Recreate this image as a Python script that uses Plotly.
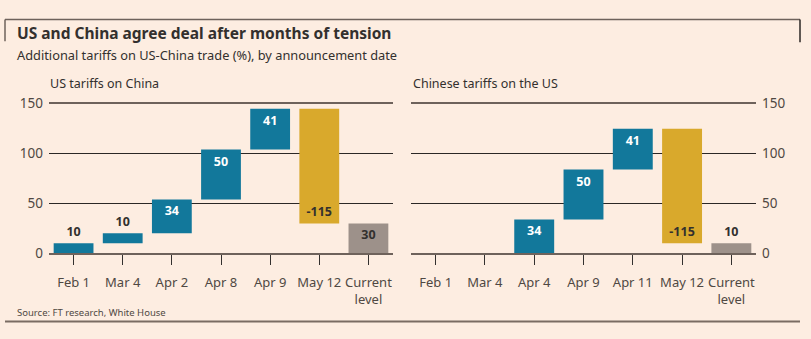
import plotly.graph_objects as go

# ---- data ----
us_dates = ["Feb 1", "Mar 4", "Apr 2", "Apr 8", "Apr 9", "May 12", "Current<br>level"]
us_changes = [10, 10, 34, 50, 41, -115, 30]
cn_dates = ["Feb 1", "Mar 4", "Apr 4", "Apr 9", "Apr 11", "May 12", "Current<br>level"]
cn_changes = [0, 0, 34, 50, 41, -115, 10]
y_ticks = [0, 50, 100, 150]

BLUE = "#12789b"
GOLD = "#d9a92c"
GREY = "#9d918a"
BG = "#fdede1"
DARK = "#33302e"
MID = "#4f4843"

FONT = "Noto Sans"


def build(changes):
    bases, vals, colors, texts, tpos, tcol = [], [], [], [], [], []
    level = 0
    n = len(changes)
    for i, c in enumerate(changes):
        if i == n - 1:  # current level (total)
            bases.append(0)
            vals.append(c)
            colors.append(GREY)
            tcol.append(DARK)
            level = c
        else:
            bases.append(level)
            vals.append(c)
            if c < 0:
                colors.append(GOLD)
                tcol.append(DARK)
            else:
                colors.append(BLUE)
                tcol.append("white")
            level += c
        texts.append("" if c == 0 else str(c))
        # small bars get their label above
        tpos.append("outside" if abs(c) <= 10 else "inside")
        if abs(c) <= 10:
            tcol[-1] = DARK
    return bases, vals, colors, texts, tpos, tcol


fig = go.Figure()
for k, (cats, ch) in enumerate([(us_dates, us_changes), (cn_dates, cn_changes)]):
    b, v, col, txt, tp, tc = build(ch)
    fig.add_trace(go.Bar(
        x=cats, y=v, base=b,
        marker=dict(color=col, line=dict(width=0)),
        width=0.81,
        text=txt, textposition=tp, insidetextanchor="end",
        textfont=dict(family=FONT, size=12.5, color=tc, weight="bold"),
        cliponaxis=False,
        xaxis="x" if k == 0 else "x2",
        yaxis="y" if k == 0 else "y2",
        showlegend=False,
        hoverinfo="skip",
    ))

y_dom = [1 - 258 / 339, 1 - 100 / 339]

xcommon = dict(
    type="category", showgrid=False, ticks="outside", ticklen=10, tickwidth=1,
    tickcolor=DARK, showline=True, linewidth=2, linecolor="#6e625b", mirror=True,
    tickfont=dict(family=FONT, size=13, color=MID), fixedrange=True,
    ticklabelstandoff=6,
)
ycommon = dict(
    range=[0, 150], tickvals=y_ticks, showgrid=True, gridcolor="#2b2725", gridwidth=1,
    zeroline=False, showline=False, ticks="",
    tickfont=dict(family=FONT, size=13.5, color=MID), fixedrange=True,
    ticklabelstandoff=5,
)

fig.update_layout(
    width=811, height=339,
    margin=dict(l=0, r=0, t=0, b=0),
    paper_bgcolor=BG, plot_bgcolor=BG,
    bargap=0.19,
    xaxis=dict(domain=[49 / 811, 393 / 811], anchor="y", **xcommon),
    xaxis2=dict(domain=[411 / 811, 756 / 811], anchor="y2", **xcommon),
    yaxis=dict(domain=y_dom, anchor="x", side="left", **ycommon),
    yaxis2=dict(domain=y_dom, anchor="x2", side="right", **ycommon),
    font=dict(family=FONT, color=DARK),
)

ann = [
    dict(text="<b>US and China agree deal after months of tension</b>", x=15 / 811, y=1 - 25 / 339,
         font=dict(size=15.5, color=DARK, family=FONT)),
    dict(text="Additional tariffs on US-China trade (%), by announcement date", x=15 / 811, y=1 - 49 / 339,
         font=dict(size=12.8, color=DARK, family=FONT)),
    dict(text="US tariffs on China", x=48 / 811, y=1 - 79 / 339,
         font=dict(size=12.5, color=DARK, family=FONT)),
    dict(text="Chinese tariffs on the US", x=411 / 811, y=1 - 79 / 339,
         font=dict(size=12.5, color=DARK, family=FONT)),
    dict(text="Source: FT research, White House", x=15 / 811, y=1 - 320 / 339,
         font=dict(size=9.5, color=MID, family=FONT)),
]
for a in ann:
    fig.add_annotation(xref="paper", yref="paper", xanchor="left", yanchor="middle",
                       showarrow=False, **a)

# frame decorations
shapes = [
    dict(type="line", x0=5 / 811, x1=800 / 811, y0=1 - 11 / 339, y1=1 - 11 / 339,
         line=dict(color="#6e625b", width=1.5)),
    dict(type="line", x0=5 / 811, x1=5 / 811, y0=1 - 11 / 339, y1=1 - 34 / 339,
         line=dict(color="#6e625b", width=1.5)),
    dict(type="line", x0=800 / 811, x1=800 / 811, y0=1 - 11 / 339, y1=1 - 35 / 339,
         line=dict(color="#2b2725", width=1.5)),
    dict(type="line", x0=5 / 811, x1=800 / 811, y0=1 - 330 / 339, y1=1 - 330 / 339,
         line=dict(color="#7a6c63", width=2)),
]
for s in shapes:
    fig.add_shape(xref="paper", yref="paper", layer="above", **s)

fig.write_html("out.html")
